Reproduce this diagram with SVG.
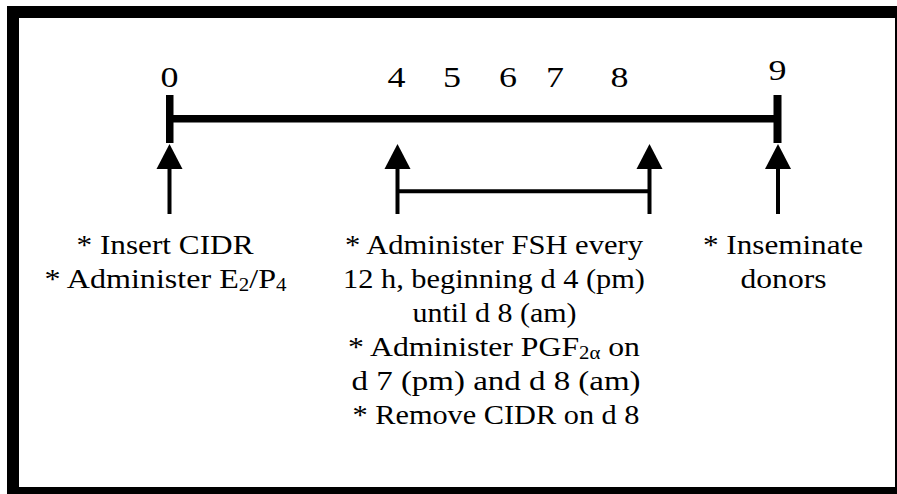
<svg xmlns="http://www.w3.org/2000/svg" width="897" height="494" viewBox="0 0 897 494">
<style>
  text { font-family: 'Liberation Serif', Tinos, 'Times New Roman', Times, serif; fill: #000; text-anchor: middle; }
  .t { font-size: 27.5px; }
  .n { font-size: 29px; }
  .shaft { stroke: #000; stroke-width: 4; fill: none; }
  .head { fill: #000; }
</style>
<defs>
  <g id="arrow">
    <polygon class="head" points="0,-70 -13,-45 13,-45"/>
    <line class="shaft" x1="0" y1="-46" x2="0" y2="0"/>
  </g>
</defs>
<rect x="0" y="0" width="897" height="494" fill="#fff"/>
<rect id="frame" x="13" y="12" width="888" height="481" fill="none" stroke="#000" stroke-width="12"/>

<g id="timeline" font-family="Liberation Serif, serif">
  <rect x="169" y="115" width="609" height="7.5" fill="#000"/>
  <rect x="166" y="95" width="7.5" height="48" fill="#000"/>
  <rect x="773.5" y="95" width="8" height="48" fill="#000"/>
  <text class="n" x="169.5" y="87" textLength="18" lengthAdjust="spacingAndGlyphs">0</text>
  <text class="n" x="396.5" y="87" textLength="18" lengthAdjust="spacingAndGlyphs">4</text>
  <text class="n" x="452" y="87" textLength="18" lengthAdjust="spacingAndGlyphs">5</text>
  <text class="n" x="508" y="87" textLength="18" lengthAdjust="spacingAndGlyphs">6</text>
  <text class="n" x="555" y="87" textLength="18" lengthAdjust="spacingAndGlyphs">7</text>
  <text class="n" x="619.5" y="87" textLength="18" lengthAdjust="spacingAndGlyphs">8</text>
  <text class="n" x="777.5" y="80" textLength="18" lengthAdjust="spacingAndGlyphs">9</text>
</g>

<g id="connectors">
  <use href="#arrow" x="169.5" y="214"/>
  <use href="#arrow" x="397.5" y="214"/>
  <use href="#arrow" x="649.5" y="214"/>
  <use href="#arrow" x="778" y="214"/>
  <line x1="397.5" y1="191.3" x2="649.5" y2="191.3" stroke="#000" stroke-width="4"/>
</g>

<g id="node-day0">
  <text class="t" x="165" y="254" textLength="177" lengthAdjust="spacingAndGlyphs">* Insert CIDR</text>
  <text class="t" x="165.5" y="288" textLength="242" lengthAdjust="spacingAndGlyphs">* Administer E<tspan font-size="18" dy="3">2</tspan><tspan dy="-3">/P</tspan><tspan font-size="18" dy="3">4</tspan></text>
</g>

<g id="node-day4-8">
  <text class="t" x="494" y="254" textLength="298" lengthAdjust="spacingAndGlyphs">* Administer FSH every</text>
  <text class="t" x="494" y="288" textLength="302" lengthAdjust="spacingAndGlyphs">12 h, beginning d 4 (pm)</text>
  <text class="t" x="494.5" y="322" textLength="164" lengthAdjust="spacingAndGlyphs">until d 8 (am)</text>
  <text class="t" x="494" y="356" textLength="292" lengthAdjust="spacingAndGlyphs">* Administer PGF<tspan font-size="18" dy="3">2α</tspan><tspan dy="-3"> on</tspan></text>
  <text class="t" x="496" y="390" textLength="289" lengthAdjust="spacingAndGlyphs">d 7 (pm) and d 8 (am)</text>
  <text class="t" x="496" y="424" textLength="287" lengthAdjust="spacingAndGlyphs">* Remove CIDR on d 8</text>
</g>

<g id="node-day9">
  <text class="t" x="783" y="254" textLength="160" lengthAdjust="spacingAndGlyphs">* Inseminate</text>
  <text class="t" x="783.5" y="288" textLength="86" lengthAdjust="spacingAndGlyphs">donors</text>
</g>
</svg>
